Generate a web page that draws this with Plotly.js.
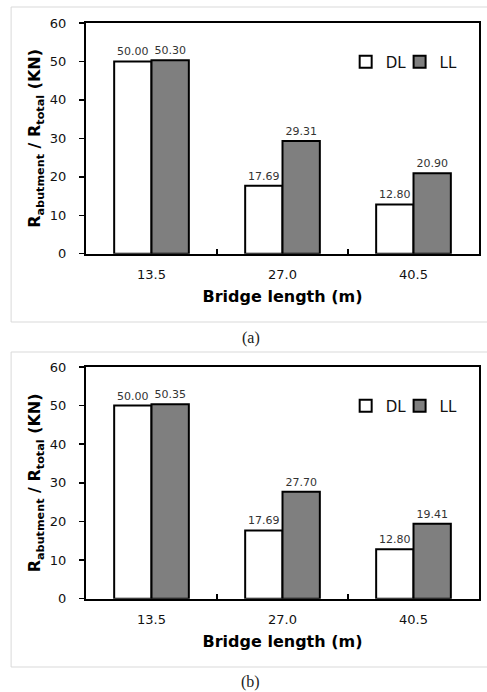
<!DOCTYPE html>
<html>
<head>
<meta charset="utf-8">
<script src="https://cdn.plot.ly/plotly-3.0.1.min.js"></script>
<style>html,body{margin:0;padding:0;background:#fff;}#chart{width:487px;height:692px;}</style>
</head>
<body>
<div id="chart"></div>
<script>
const categories = ['13.5', '27.0', '40.5'];
const dlA = [50.00, 17.69, 12.80];
const llA = [50.30, 29.31, 20.90];
const dlB = [50.00, 17.69, 12.80];
const llB = [50.35, 27.70, 19.41];
const seriesNames = ['DL', 'LL'];
const captions = ['(a)', '(b)'];

const W = 487, H = 692;
const mL = 86, mR = 7.5;
const pw = W - mL - mR;
const px = v => (v - mL) / pw;
const py = v => 1 - v / H;

const txtFont = {family: 'DejaVu Sans', size: 11, color: '#333'};

function barTrace(name, vals, fill, xa, ya, leg) {
  return {
    type: 'bar', name: name, x: categories, y: vals,
    xaxis: xa, yaxis: ya, legend: leg, showlegend: true,
    marker: {color: fill, line: {color: '#000', width: 2}},
    text: vals.map(v => v.toFixed(2)), textposition: 'outside',
    textfont: txtFont, cliponaxis: false, hoverinfo: 'skip'
  };
}

const data = [
  barTrace(seriesNames[0], dlA, '#ffffff', 'x', 'y', 'legend'),
  barTrace(seriesNames[1], llA, '#7f7f7f', 'x', 'y', 'legend3'),
  barTrace(seriesNames[0], dlB, '#ffffff', 'x2', 'y2', 'legend2'),
  barTrace(seriesNames[1], llB, '#7f7f7f', 'x2', 'y2', 'legend4')
];

const tickFont = {family: 'DejaVu Sans', size: 13, color: '#111'};
const titleFont = {family: 'DejaVu Sans', size: 16, color: '#000', weight: 'bold'};

function xAxis(anchor) {
  return {
    anchor: anchor, domain: [0, 1], type: 'category',
    categoryorder: 'array', categoryarray: categories,
    showline: true, mirror: true, linecolor: '#000', linewidth: 2,
    ticks: 'inside', tickson: 'boundaries', ticklen: 5, tickwidth: 1.5, tickcolor: '#000',
    ticklabelstandoff: 8,
    tickfont: tickFont, showgrid: false, zeroline: false,
    title: {text: '<b>Bridge length (m)</b>', font: titleFont, standoff: 10}
  };
}
function yAxis(anchor, dom) {
  return {
    anchor: anchor, domain: dom, range: [0, 60], dtick: 10,
    showline: true, mirror: true, linecolor: '#000', linewidth: 2,
    ticks: 'outside', ticklen: 5, tickwidth: 1.5, tickcolor: '#000',
    ticklabelstandoff: 10,
    tickfont: tickFont, showgrid: false, zeroline: false,
    title: {text: '<b>R<sub>abutment</sub> / R<sub>total</sub> (KN)</b>', font: titleFont, standoff: 5}
  };
}

const legendBase = {
  orientation: 'h', xanchor: 'left', yanchor: 'middle',
  font: {family: 'DejaVu Sans', size: 15, color: '#111'},
  bgcolor: 'rgba(0,0,0,0)', itemwidth: 30, tracegroupgap: 0
};

const layout = {
  width: W, height: H,
  margin: {l: mL, r: mR, t: 0, b: 0},
  paper_bgcolor: '#fff', plot_bgcolor: '#fff',
  barmode: 'group', bargap: 0.43, bargroupgap: 0,
  xaxis: xAxis('y'),
  yaxis: yAxis('x', [py(253.7), py(23)]),
  xaxis2: xAxis('y2'),
  yaxis2: yAxis('x2', [py(598.7), py(367)]),
  legend: Object.assign({}, legendBase, {x: px(346), y: py(62)}),
  legend3: Object.assign({}, legendBase, {x: px(400), y: py(62)}),
  legend2: Object.assign({}, legendBase, {x: px(346), y: py(406)}),
  legend4: Object.assign({}, legendBase, {x: px(400), y: py(406)}),
  shapes: [
    {type: 'rect', xref: 'paper', yref: 'paper', x0: px(11), x1: px(495), y0: py(322), y1: py(7),
     line: {color: '#d9d9d9', width: 1}, layer: 'below'},
    {type: 'rect', xref: 'paper', yref: 'paper', x0: px(11), x1: px(495), y0: py(667), y1: py(352),
     line: {color: '#d9d9d9', width: 1}, layer: 'below'}
  ],
  annotations: [
    {text: captions[0], xref: 'paper', yref: 'paper', x: px(251), y: py(338), showarrow: false,
     xanchor: 'center', yanchor: 'middle', font: {family: 'Liberation Serif', size: 16, color: '#222'}},
    {text: captions[1], xref: 'paper', yref: 'paper', x: px(251), y: py(682), showarrow: false,
     xanchor: 'center', yanchor: 'middle', font: {family: 'Liberation Serif', size: 16, color: '#222'}}
  ]
};

Plotly.newPlot('chart', data, layout, {staticPlot: true, displayModeBar: false});
</script>
</body>
</html>
